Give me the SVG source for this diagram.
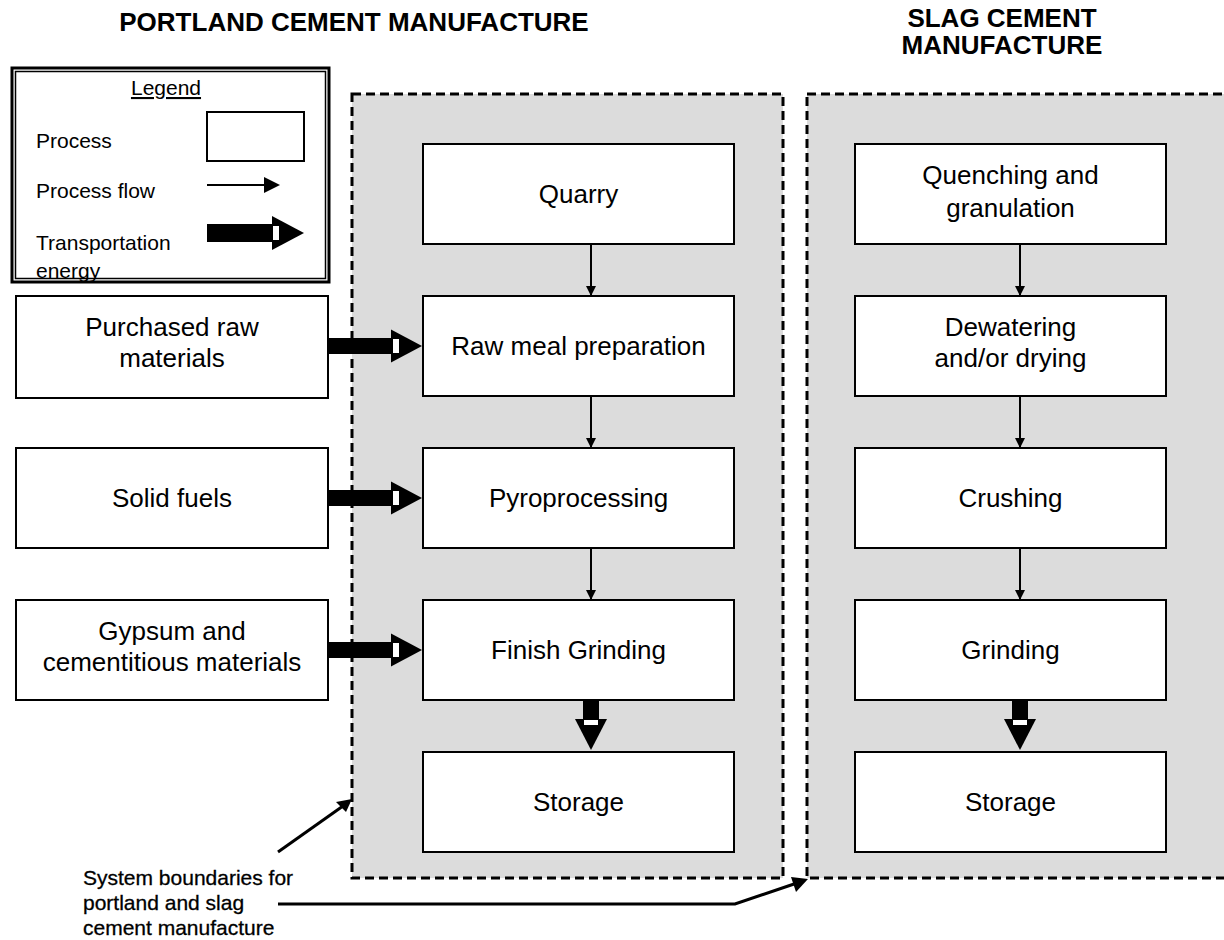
<svg xmlns="http://www.w3.org/2000/svg" width="1224" height="940" viewBox="0 0 1224 940">
<defs>
<style>
text{font-family:"Liberation Sans",Arial,sans-serif;fill:#000}
.t{font-size:26px;text-anchor:middle}
.title{font-size:26px;font-weight:bold;text-anchor:middle}
.lg{font-size:21px}
.cap{font-size:21px;stroke:#000;stroke-width:0.3}
.box{fill:#fff;stroke:#000;stroke-width:2}
.bound{fill:#dcdcdc;stroke:#000;stroke-width:3;stroke-dasharray:9 5}
.flow{stroke:#000;stroke-width:2;fill:none;marker-end:url(#ah)}
.ptr{stroke:#000;stroke-width:3;fill:none}
</style>
<marker id="ah" viewBox="0 0 10 10" refX="10" refY="5" markerWidth="6" markerHeight="5" markerUnits="strokeWidth" orient="auto">
<path d="M0,0 L10,5 L0,10 z" fill="#000"/>
</marker>
<g id="tr-h">
<rect x="0" y="-8" width="64" height="16" fill="#000"/>
<path d="M63,-16.5 L94,0 L63,16.5 z" fill="#000"/>
<rect x="65" y="-7" width="6" height="14" fill="#fff"/>
</g>
<g id="tr-v">
<rect x="-8" y="0" width="16" height="20" fill="#000"/>
<path d="M-16,19 L16,19 L0,50 z" fill="#000"/>
<rect x="-7" y="20" width="14" height="5" fill="#fff"/>
</g>
</defs>
<rect width="1224" height="940" fill="#fff"/>

<text class="title" x="354" y="31">PORTLAND CEMENT MANUFACTURE</text>
<text class="title" x="1002" y="27">SLAG CEMENT</text>
<text class="title" x="1002" y="54">MANUFACTURE</text>

<g id="boundary-portland"><rect class="bound" x="352" y="94" width="431" height="784"/></g>
<g id="boundary-slag"><rect class="bound" x="807" y="94" width="440" height="784"/></g>

<g id="legend">
<rect x="12" y="68" width="317" height="214" fill="#fff" stroke="#000" stroke-width="3"/>
<rect x="15.5" y="71.5" width="310" height="207" fill="none" stroke="#000" stroke-width="1.5"/>
<text class="lg" x="166" y="95" text-anchor="middle" text-decoration="underline">Legend</text>
<text class="lg" x="36" y="148">Process</text>
<text class="lg" x="36" y="198">Process flow</text>
<text class="lg" x="36" y="250">Transportation</text>
<text class="lg" x="36" y="278">energy</text>
<rect x="207" y="112" width="97" height="49" fill="#fff" stroke="#000" stroke-width="2"/>
<line x1="207" y1="185" x2="266" y2="185" stroke="#000" stroke-width="2"/>
<path d="M264,177 L280,185 L264,193 z" fill="#000"/>
<rect x="207" y="224" width="66" height="18" fill="#000"/>
<path d="M272,216 L304,233 L272,250 z" fill="#000"/>
<rect x="273" y="226" width="6" height="14" fill="#fff"/>
</g>

<g id="connectors">
<line class="flow" x1="591" y1="244" x2="591" y2="296"/>
<line class="flow" x1="591" y1="396" x2="591" y2="448"/>
<line class="flow" x1="591" y1="548" x2="591" y2="600"/>
<line class="flow" x1="1020" y1="244" x2="1020" y2="296"/>
<line class="flow" x1="1020" y1="396" x2="1020" y2="448"/>
<line class="flow" x1="1020" y1="548" x2="1020" y2="600"/>
<use href="#tr-h" x="328" y="346"/>
<use href="#tr-h" x="328" y="498"/>
<use href="#tr-h" x="328" y="650"/>
<use href="#tr-v" x="591" y="700"/>
<use href="#tr-v" x="1020" y="700"/>
<path class="ptr" d="M278,852 L343,806"/>
<path d="M352,799 L336,802 L346,812 z" fill="#000"/>
<path class="ptr" d="M278,904 L735,904 L797,883"/>
<path d="M808,879 L791,877 L796,892 z" fill="#000"/>
</g>

<g id="quarry"><rect class="box" x="423" y="144" width="311" height="100"/><text class="t" x="578.5" y="203">Quarry</text></g>
<g id="raw-meal"><rect class="box" x="423" y="296" width="311" height="100"/><text class="t" x="578.5" y="355">Raw meal preparation</text></g>
<g id="pyro"><rect class="box" x="423" y="448" width="311" height="100"/><text class="t" x="578.5" y="507">Pyroprocessing</text></g>
<g id="finish"><rect class="box" x="423" y="600" width="311" height="100"/><text class="t" x="578.5" y="659">Finish Grinding</text></g>
<g id="storage-p"><rect class="box" x="423" y="752" width="311" height="100"/><text class="t" x="578.5" y="811">Storage</text></g>

<g id="quench"><rect class="box" x="855" y="144" width="311" height="100"/><text class="t" x="1010.5" y="184">Quenching and</text><text class="t" x="1010.5" y="217">granulation</text></g>
<g id="dewater"><rect class="box" x="855" y="296" width="311" height="100"/><text class="t" x="1010.5" y="336">Dewatering</text><text class="t" x="1010.5" y="367">and/or drying</text></g>
<g id="crush"><rect class="box" x="855" y="448" width="311" height="100"/><text class="t" x="1010.5" y="507">Crushing</text></g>
<g id="grind"><rect class="box" x="855" y="600" width="311" height="100"/><text class="t" x="1010.5" y="659">Grinding</text></g>
<g id="storage-s"><rect class="box" x="855" y="752" width="311" height="100"/><text class="t" x="1010.5" y="811">Storage</text></g>

<g id="purchased"><rect class="box" x="16" y="296" width="312" height="102"/><text class="t" x="172" y="336">Purchased raw</text><text class="t" x="172" y="367">materials</text></g>
<g id="solid"><rect class="box" x="16" y="448" width="312" height="100"/><text class="t" x="172" y="507">Solid fuels</text></g>
<g id="gypsum"><rect class="box" x="16" y="600" width="312" height="100"/><text class="t" x="172" y="640">Gypsum and</text><text class="t" x="172" y="671">cementitious materials</text></g>

<g id="caption">
<text class="cap" x="83" y="885">System boundaries for</text>
<text class="cap" x="83" y="910">portland and slag</text>
<text class="cap" x="83" y="935">cement manufacture</text>
</g>
</svg>
